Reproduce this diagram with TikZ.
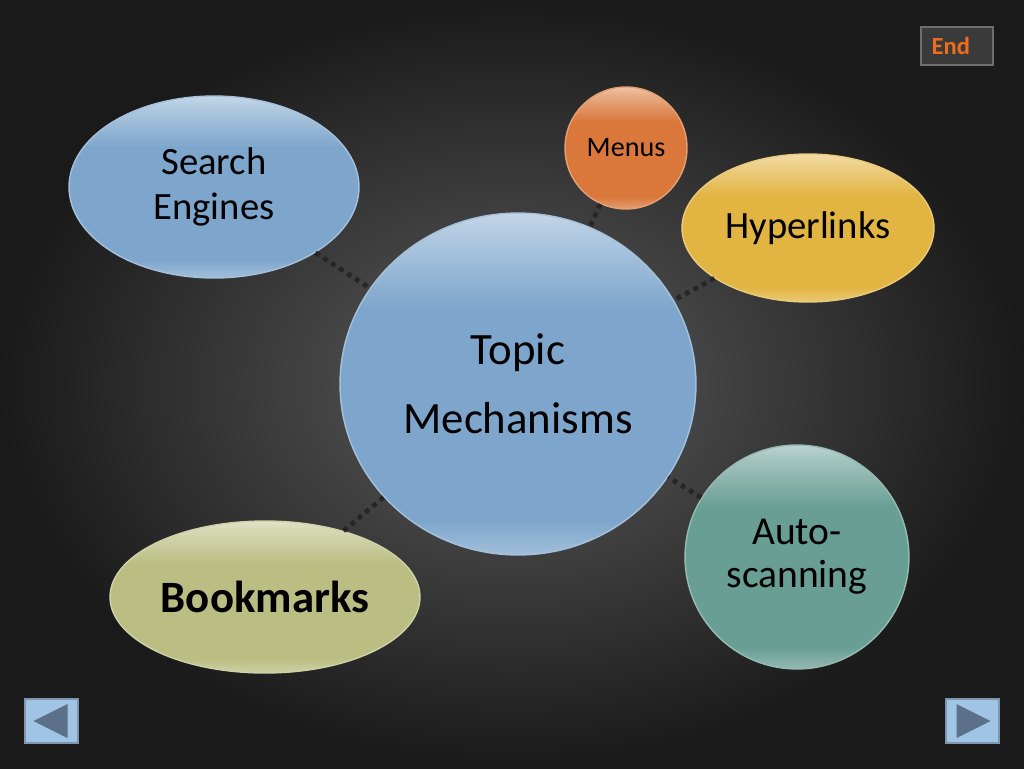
\documentclass[tikz,border=0pt]{standalone}
\usepackage{fontspec}
\setmainfont{Carlito}
\usetikzlibrary{shapes.geometric,calc}
\definecolor{bginner}{RGB}{92,92,92}
\definecolor{bgouter}{RGB}{26,26,26}
\definecolor{skyblue}{RGB}{126,166,204}
\definecolor{menuorange}{RGB}{218,120,60}
\definecolor{linkgold}{RGB}{226,180,66}
\definecolor{markolive}{RGB}{186,190,130}
\definecolor{scanteal}{RGB}{104,158,148}
\definecolor{navfill}{RGB}{160,196,228}
\definecolor{navedge}{RGB}{128,150,172}
\definecolor{navarrow}{RGB}{92,112,138}
\definecolor{endfill}{RGB}{58,58,58}
\definecolor{endedge}{RGB}{110,110,110}
\definecolor{endtext}{RGB}{236,110,28}
\colorlet{bubblebase}{skyblue}
\pgfdeclareverticalshading[bubblebase]{gloss}{100bp}{%
  color(0bp)=(bubblebase!72!white); color(25bp)=(bubblebase!72!white);
  color(30bp)=(bubblebase); color(61bp)=(bubblebase);
  color(72bp)=(bubblebase!60!white); color(75bp)=(bubblebase!45!white);
  color(100bp)=(bubblebase!45!white)}
\begin{document}
\begin{tikzpicture}[x=0.02cm,y=-0.02cm,
  bubble/.style={/utils/exec={\colorlet{bubblebase}{#1}}, draw=#1!70!white, line width=0.8pt,
    inner sep=0pt, align=center, shading=gloss},
  dotlink/.style={line width=2.7pt, dash pattern=on 2.7pt off 2.7pt, black!85},
  navbox/.style={draw=navedge, line width=1.6pt, fill=navfill, minimum width=1.06cm, minimum height=0.88cm, inner sep=0pt}]
\useasboundingbox (0,0) rectangle (1024,768);
\shade[inner color=bginner, outer color=bgouter] (0,0) rectangle (1024,768);
% bubbles
\node[bubble=skyblue, ellipse, minimum width=5.8cm, minimum height=3.64cm, font=\fontsize{22}{25.5}\selectfont] (search) at (214,187) {Search\\Engines};
\node[bubble=menuorange, circle, minimum size=2.44cm, font=\fontsize{16}{19}\selectfont] (menus) at (626,148) {Menus};
\node[bubble=linkgold, ellipse, minimum width=5.04cm, minimum height=2.96cm, font=\fontsize{22}{25}\selectfont] (links) at (808,228) {Hyperlinks};
\node[bubble=skyblue, ellipse, minimum width=7.12cm, minimum height=6.84cm, font=\fontsize{25.5}{39}\selectfont] (topic) at (518,384) {Topic\\Mechanisms};
\node[bubble=scanteal, circle, minimum size=4.48cm, font=\fontsize{22.5}{24.5}\selectfont] (scan) at (797,557) {Auto-\\scanning};
\node[bubble=markolive, ellipse, minimum width=6.2cm, minimum height=3.04cm, font=\bfseries\fontsize{25.5}{30}\selectfont] (marks) at (265,597) {Bookmarks};
% dotted links
\draw[dotlink] (search) -- (topic);
\draw[dotlink] (menus) -- (topic);
\draw[dotlink] (links) -- (topic);
\draw[dotlink] (marks) -- (topic);
\draw[dotlink] (scan) -- (topic);
% end button
\node[draw=endedge, line width=1.6pt, fill=endfill, minimum width=1.44cm, minimum height=0.76cm, inner sep=0pt, text=endtext, font=\bfseries\fontsize{14}{16}\selectfont] (endbtn) at (957,46) {End\rule{7pt}{0pt}};
% navigation buttons
\node[navbox] (prev) at (51.5,721) {};
\node[navbox] (next) at (972.5,721) {};
\fill[navarrow] ($(prev.center)+(-18,0)$) -- ($(prev.center)+(16,-17)$) -- ($(prev.center)+(16,17)$) -- cycle;
\fill[navarrow] ($(next.center)+(18,0)$) -- ($(next.center)+(-16,-17)$) -- ($(next.center)+(-16,17)$) -- cycle;
\end{tikzpicture}
\end{document}
